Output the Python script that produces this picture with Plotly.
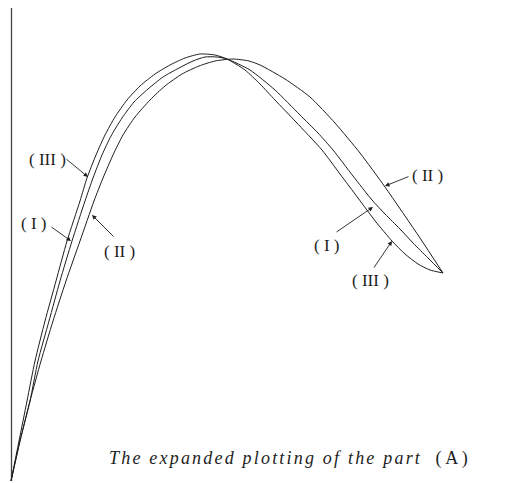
import plotly.graph_objects as go

# Expanded profiles of part (A): three curves (I), (II), (III)
# sharing a common start point and a common end point.
curve_I_x = [0, 9, 19, 27, 38, 49, 61, 74, 82, 91, 100, 111, 123, 137, 152, 168, 182, 194,
             206, 216, 239, 264, 289, 307, 322, 342, 361, 374, 389, 402, 417, 432]
curve_I_y = [0, 40, 80, 120, 160, 200, 240, 280, 303, 326, 345, 363, 379, 392, 404, 413, 420, 424,
             424, 422, 411, 391, 366, 348, 331, 305, 281, 267, 252, 238, 223, 208]

curve_II_x = [0, 9, 19, 30, 42, 55, 69, 83, 92, 102, 112, 124, 139, 154, 171, 188, 204, 222,
              238, 249, 274, 299, 324, 349, 374, 409, 432]
curve_II_y = [0, 40, 80, 120, 160, 200, 240, 280, 303, 326, 346, 364, 381, 395, 407, 415, 420, 422,
              420, 416, 402, 384, 358, 328, 294, 243, 208]

curve_III_x = [0, 8, 16, 24, 34, 45, 56, 69, 76, 85, 94, 104, 116, 129, 144, 159, 174, 189,
               204, 216, 234, 249, 264, 285, 311, 329, 347, 365, 381, 394, 407, 419, 432]
curve_III_y = [0, 40, 80, 120, 160, 200, 240, 280, 303, 326, 346, 364, 381, 395, 407, 416, 423, 427,
               426, 422, 411, 397, 381, 359, 331, 307, 283, 259, 240, 227, 217, 211, 208]

# Vertical reference line
ref_x = [0.5, 0.5]
ref_y = [0, 473]

# Curve labels: text, label position, arrow tail, arrow tip
labels = ["( I )", "( II )", "( III )", "( I )", "( II )", "( III )"]
label_x = [22, 108, 36, 315, 416, 359]
label_y = [258, 230, 322, 236, 306, 201]
tail_x = [39, 104, 54, 324, 399, 362]
tail_y = [255, 243, 323, 248, 305, 212]
tip_x = [60, 81, 77, 362, 374, 381]
tip_y = [240, 266, 304, 274, 295, 240]

caption_main = "The expanded plotting of the part"
caption_tag = "(\u2009A\u2009)"

ink = "#1e1e1e"
fig = go.Figure()
fig.add_trace(go.Scatter(x=ref_x, y=ref_y, mode="lines",
                         line=dict(color="#444444", width=1.3)))
for cx, cy in [(curve_I_x, curve_I_y), (curve_II_x, curve_II_y), (curve_III_x, curve_III_y)]:
    fig.add_trace(go.Scatter(x=cx, y=cy, mode="lines",
                             line=dict(color=ink, width=1, shape="spline", smoothing=0.6)))

for t, lx, ly, ax_, ay_, px_, py_ in zip(labels, label_x, label_y, tail_x, tail_y, tip_x, tip_y):
    fig.add_annotation(x=lx, y=ly, text=t, showarrow=False,
                       font=dict(family="Liberation Serif", size=17, color=ink))
    fig.add_annotation(x=px_, y=py_, ax=ax_, ay=ay_, axref="x", ayref="y", text="",
                       showarrow=True, arrowhead=2, arrowsize=1, arrowwidth=0.9,
                       arrowcolor=ink)

caption = ('<span style="letter-spacing:2.2px"><i>' + caption_main + '</i></span>'
           '\u00a0\u00a0\u00a0' + caption_tag)
fig.add_annotation(x=459, y=23, text=caption, showarrow=False, xanchor="right",
                   font=dict(family="Liberation Serif", size=18, color=ink))

fig.update_layout(
    width=523, height=483,
    margin=dict(l=0, r=0, t=0, b=0),
    paper_bgcolor="white", plot_bgcolor="white",
    showlegend=False,
    xaxis=dict(range=[-11, 512], visible=False),
    yaxis=dict(range=[-2, 481], visible=False),
)
fig.write_html("out.html")
